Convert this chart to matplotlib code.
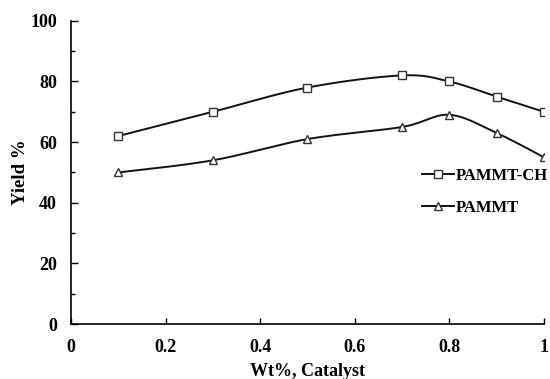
import matplotlib
matplotlib.use('Agg')
import matplotlib.pyplot as plt
import numpy as np
from matplotlib.ticker import MultipleLocator

wt = [0.1, 0.3, 0.5, 0.7, 0.8, 0.9, 1.0]
pammt_ch = [62, 70, 78, 82, 80, 75, 70]
pammt = [50, 54, 61, 65, 69, 63, 55]

plt.rcParams['font.family'] = ['Liberation Serif', 'DejaVu Serif']
plt.rcParams['font.weight'] = 'bold'


def smooth(x, y, n=30):
    # Excel-style smoothed line: cubic Bezier through points, tension 1/6
    p = np.column_stack([x, y]).astype(float)
    ext = np.vstack([p[0], p, p[-1]])
    out = []
    t = np.linspace(0, 1, n)[:, None]
    for i in range(len(p) - 1):
        p0, p1, p2, p3 = ext[i], ext[i + 1], ext[i + 2], ext[i + 3]
        c1 = p1 + (p2 - p0) / 6
        c2 = p2 - (p3 - p1) / 6
        seg = ((1 - t) ** 3) * p1 + 3 * ((1 - t) ** 2) * t * c1 + 3 * (1 - t) * t ** 2 * c2 + t ** 3 * p2
        out.append(seg)
    out = np.vstack(out)
    return out[:, 0], out[:, 1]


fig = plt.figure(figsize=(5.5, 3.79), dpi=100)
ax = fig.add_axes([0.129, 0.145, 0.86, 0.80])

col = '#111111'
for y, m, lab in [(pammt_ch, 's', 'PAMMT-CH'), (pammt, '^', 'PAMMT')]:
    sx, sy = smooth(wt, y)
    ax.plot(sx, sy, color=col, lw=1.4)
    ax.plot(wt, y, linestyle='none', marker=m, ms=6, mfc='white', mec='#333333', mew=1.0)
    ax.plot([], [], color=col, lw=1.4, marker=m, ms=6, mfc='white', mec='#333333', mew=1.0, label=lab)

ax.set_xlim(0, 1)
ax.set_ylim(0, 100)
ax.yaxis.set_major_locator(MultipleLocator(20))
ax.yaxis.set_minor_locator(MultipleLocator(10))
ax.set_xticks([0, 0.2, 0.4, 0.6, 0.8, 1.0])
ax.set_xticklabels(['0', '0.2', '0.4', '0.6', '0.8', '1'])
ax.tick_params(direction='in', length=5, width=1, labelsize=13)
ax.tick_params(axis='y', pad=10)
ax.tick_params(axis='x', pad=11, length=4)
ax.tick_params(which='minor', direction='in', length=3, width=1)
for lbl in ax.get_xticklabels() + ax.get_yticklabels():
    lbl.set_fontweight('bold')

for s in ['top', 'right']:
    ax.spines[s].set_visible(False)
for s in ['left', 'bottom']:
    ax.spines[s].set_linewidth(1.2)

ax.set_xlabel('Wt%, Catalyst', fontsize=13, fontweight='bold', labelpad=5)
ax.set_ylabel('Yield %', fontsize=13.5, fontweight='bold', labelpad=1)

ax.legend(loc='upper left', bbox_to_anchor=(0.742, 0.515), frameon=False, fontsize=12,
          handlelength=1.9, handletextpad=0.15, labelspacing=0.95, borderpad=0, borderaxespad=0)

fig.savefig('out.png', dpi=100)
